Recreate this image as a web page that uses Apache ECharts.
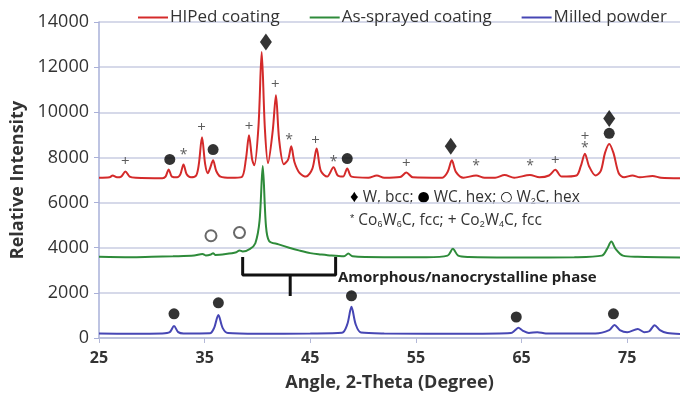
<!DOCTYPE html>
<html>
<head>
<meta charset="utf-8">
<script src="https://cdn.jsdelivr.net/npm/echarts@6/dist/echarts.min.js"></script>
<style>
  html, body { margin: 0; padding: 0; background: #fff; }
  #chart { width: 680px; height: 398px; }
</style>
</head>
<body>
<div id="chart"></div>
<script>
var FONT = '"Open Sans", "Liberation Sans", sans-serif'

// XRD patterns, [2-theta, intensity]
var hiped = [
  [25, 7100], [26, 7120], [26.3, 7200], [26.7, 7120], [27.1, 7150], [27.5, 7380], [27.9, 7150], [28.5, 7100],
  [31, 7080], [31.3, 7150], [31.6, 7470], [31.9, 7150], [32.4, 7120], [32.7, 7250], [33.0, 7690], [33.3, 7250],
  [33.7, 7120], [34.2, 7200], [34.45, 7700], [34.75, 8890], [35.05, 7700], [35.3, 7300], [35.5, 7500], [35.8, 7870],
  [36.1, 7400], [36.5, 7150], [37.5, 7100], [38.5, 7130], [38.9, 7900], [39.2, 8980], [39.5, 7900], [39.7, 7650],
  [40.1, 9400], [40.4, 12670], [40.7, 9300], [41.0, 7750], [41.45, 9200], [41.75, 10760], [42.05, 8800], [42.5, 7700],
  [42.9, 7900], [43.2, 8490], [43.5, 7800], [44.0, 7300], [44.6, 7150], [45.2, 7500], [45.6, 8400], [46.0, 7400],
  [46.6, 7150], [47.2, 7560], [47.6, 7200], [48.1, 7150], [48.5, 7510], [48.9, 7150], [50.5, 7100], [51.3, 7200],
  [52, 7100], [53.5, 7130], [54.1, 7330], [54.7, 7120], [57.5, 7100], [58.0, 7350], [58.4, 7870], [58.8, 7350],
  [59.5, 7100], [60.7, 7200], [61.5, 7100], [62.5, 7100], [63.4, 7220], [64.3, 7100], [65.8, 7220], [66.7, 7120],
  [67.6, 7200], [68.2, 7450], [68.8, 7150], [70.2, 7200], [70.6, 7600], [71.0, 8160], [71.4, 7600], [72.0, 7200],
  [72.5, 7400], [72.9, 8200], [73.3, 8600], [73.7, 8200], [74.2, 7300], [74.7, 7120], [75.5, 7200], [76.2, 7120],
  [77.4, 7180], [78.2, 7100], [80, 7080]
]
var sprayed = [
  [25, 3600], [28, 3580], [30, 3600], [32, 3620], [34, 3650], [34.8, 3720], [35.1, 3660], [35.6, 3700],
  [35.8, 3760], [36.0, 3680], [37, 3720], [38, 3800], [38.3, 3880], [38.6, 3830], [39.3, 3950], [39.8, 4200],
  [40.2, 5200], [40.5, 7620], [40.8, 5000], [41.1, 4300], [42, 4150], [43, 4000], [44, 3870], [45, 3760],
  [46, 3700], [47, 3650], [48.2, 3620], [48.6, 3740], [49, 3620], [52, 3580], [56, 3580], [58.0, 3650],
  [58.5, 3950], [59.0, 3650], [60, 3590], [65, 3570], [70, 3580], [72.6, 3650], [73.1, 3950], [73.5, 4270],
  [73.9, 3950], [74.6, 3650], [76, 3600], [80, 3570]
]
var milled = [
  [25, 200], [28, 190], [31, 200], [31.7, 260], [32.1, 530], [32.5, 260], [33, 200], [35.5, 210],
  [35.9, 450], [36.3, 1020], [36.7, 450], [37.2, 220], [40, 190], [45, 200], [48, 230], [48.5, 600],
  [48.9, 1380], [49.3, 600], [49.8, 240], [52, 200], [60, 190], [64, 220], [64.4, 350], [64.7, 450],
  [65.1, 330], [65.7, 220], [66.5, 260], [67.3, 200], [72, 200], [73.3, 350], [73.8, 580], [74.3, 350],
  [75, 250], [76, 400], [76.6, 260], [77.1, 300], [77.6, 570], [78.1, 350], [78.8, 220], [80, 180]
]

// phase markers above the peaks
var wBcc = [[40.8, 13110], [58.3, 8490], [73.3, 9730]]
var wcHex = [[31.7, 7910], [35.8, 8350], [48.5, 7950], [73.3, 9070],
  [32.1, 1070], [36.3, 1560], [48.9, 1870], [64.5, 930], [73.7, 1070]]
var w2cHex = [[35.6, 4530], [38.3, 4670]]
var co2w4c = [[27.5, 7820], [34.7, 9330], [39.2, 9380], [41.7, 11200], [45.5, 8760], [54.1, 7730], [68.2, 7870], [71.0, 8930]]
var co6w6c = [[33.0, 8180], [43.0, 8840], [47.2, 7870], [60.7, 7690], [65.8, 7690], [71.0, 8490]]

// curly bracket under the amorphous hump
var bracket = [[38.6, 3590], [38.6, 2790], [47.4, 2790], [47.4, 3590]]
var bracketStem = [[43.1, 2790], [43.1, 1860]]

var xTicks = [25, 35, 45, 55, 65, 75]

var chart = echarts.init(document.getElementById('chart'))

var textMark = function (name, data, ch, size, dy) {
  return {
    name: name, type: 'scatter', data: data, symbolSize: 0, silent: true,
    label: { show: true, position: 'inside', formatter: ch, fontSize: size, color: '#333', fontFamily: FONT, offset: [0, dy] }
  }
}

chart.setOption({
  animation: false,
  grid: { left: 99, right: 0, top: 22, bottom: 60 },
  legend: {
    data: ['HIPed coating', 'As-sprayed coating', 'Milled powder'],
    top: 4, left: 133, itemWidth: 30, itemHeight: 2, itemGap: 30, icon: 'rect',
    textStyle: { fontSize: 17, color: '#333', fontFamily: FONT, padding: [0, 0, 0, -3] }
  },
  xAxis: {
    type: 'value', min: 25, max: 80,
    name: 'Angle, 2-Theta (Degree)', nameLocation: 'middle', nameGap: 36,
    nameTextStyle: { fontSize: 18, fontWeight: 'bold', color: '#333', fontFamily: FONT },
    axisLine: { lineStyle: { color: '#b4b9d8', width: 1.5 } },
    axisTick: { customValues: xTicks, length: 5, lineStyle: { color: '#b4b9d8' } },
    axisLabel: { customValues: xTicks, fontSize: 16, fontWeight: 'bold', color: '#333', fontFamily: FONT, margin: 12 },
    splitLine: { show: false }
  },
  yAxis: {
    type: 'value', min: 0, max: 14000, interval: 2000,
    name: 'Relative Intensity', nameLocation: 'middle', nameGap: 72,
    nameTextStyle: { fontSize: 18, fontWeight: 'bold', color: '#333', fontFamily: FONT },
    axisLine: { show: true, lineStyle: { color: '#a9b0d8', width: 1.5 } },
    axisTick: { show: true, length: 5, lineStyle: { color: '#a9b0d8' } },
    axisLabel: { fontSize: 18, color: '#333', fontFamily: FONT, margin: 10, formatter: function (v) { return String(v) } },
    splitLine: { lineStyle: { color: '#c9cce2', width: 1.5 } }
  },
  series: [
    { name: 'HIPed coating', type: 'line', data: hiped, symbol: 'none', smooth: 0.3, color: '#d42a2a', lineStyle: { width: 2 } },
    { name: 'As-sprayed coating', type: 'line', data: sprayed, symbol: 'none', smooth: 0.3, color: '#2e8b3a', lineStyle: { width: 2 } },
    { name: 'Milled powder', type: 'line', data: milled, symbol: 'none', smooth: 0.3, color: '#4646b4', lineStyle: { width: 2 } },
    { name: 'bracket', type: 'line', data: bracket, symbol: 'none', color: '#111', lineStyle: { width: 3 }, silent: true },
    { name: 'bracketStem', type: 'line', data: bracketStem, symbol: 'none', color: '#111', lineStyle: { width: 3 }, silent: true },
    { name: 'W', type: 'scatter', data: wBcc, symbol: 'diamond', symbolSize: [12, 17], color: '#000' },
    { name: 'WC', type: 'scatter', data: wcHex, symbol: 'circle', symbolSize: 11, color: '#000' },
    { name: 'W2C', type: 'scatter', data: w2cHex, symbol: 'emptyCircle', symbolSize: 11, color: '#444', itemStyle: { borderWidth: 1.5 } },
    textMark('Co2W4C', co2w4c, '+', 15, 0),
    textMark('Co6W6C', co6w6c, '*', 14, 2)
  ],
  graphic: [
    {
      type: 'text', left: 350, top: 189,
      style: {
        text: '{m|♦} W, bcc; {c|●} WC, hex; {c|○} W{s|2}C, hex',
        font: '15.5px ' + FONT, fill: '#333',
        rich: {
          m: { fontSize: 17, fill: '#000' },
          c: { fontSize: 14, fill: '#000', fontFamily: '"DejaVu Sans"' },
          s: { fontSize: 9, padding: [8, 0, 0, 0] }
        }
      }
    },
    {
      type: 'text', left: 350, top: 213,
      style: {
        text: '{a|*} Co{s|6}W{s|6}C, fcc; + Co{s|2}W{s|4}C, fcc',
        font: '15.5px ' + FONT, fill: '#333',
        rich: { a: { fontSize: 11, padding: [0, 0, 4, 0] }, s: { fontSize: 9, padding: [8, 0, 0, 0] } }
      }
    },
    {
      type: 'text', left: 338, top: 270,
      style: { text: 'Amorphous/nanocrystalline phase', font: 'bold 15px ' + FONT, fill: '#222' }
    }
  ]
})
</script>
</body>
</html>
